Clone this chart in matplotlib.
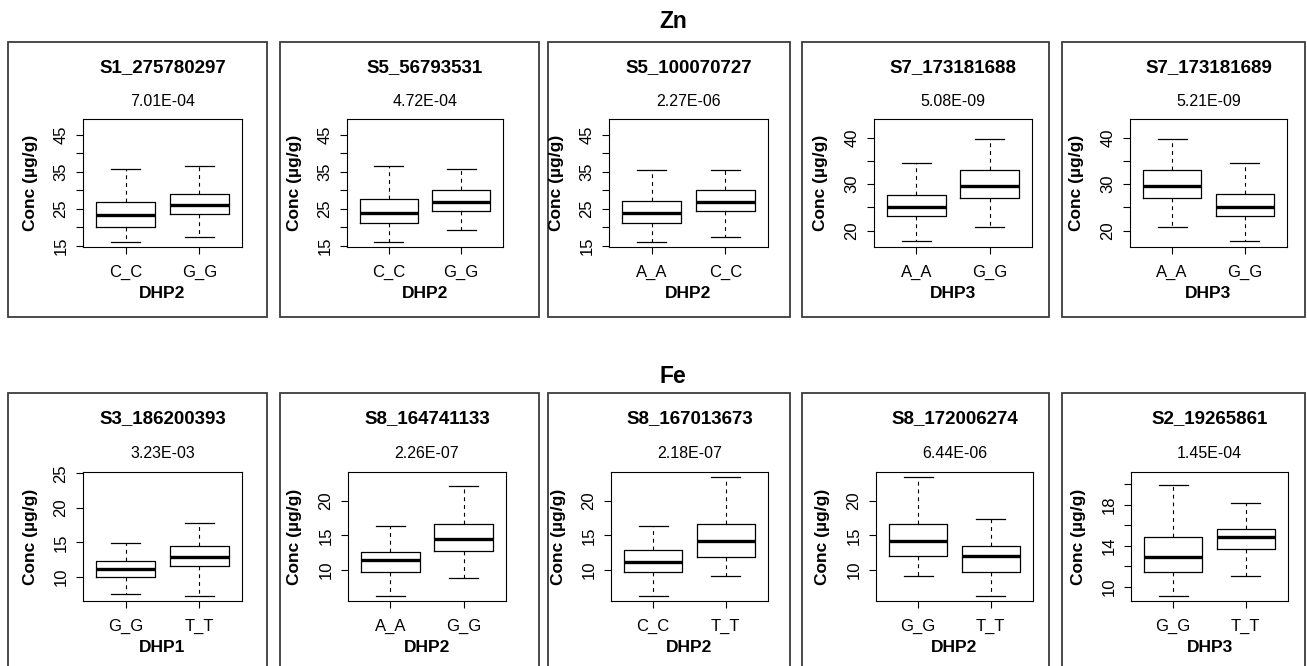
import matplotlib
matplotlib.use('Agg')
import matplotlib.pyplot as plt
from matplotlib.patches import Rectangle

plt.rcParams['font.family'] = ['Liberation Sans', 'DejaVu Sans']

# ---- data ----
row_titles = ['Zn', 'Fe']

markers = [
    ['S1_275780297', 'S5_56793531', 'S5_100070727', 'S7_173181688', 'S7_173181689'],
    ['S3_186200393', 'S8_164741133', 'S8_167013673', 'S8_172006274', 'S2_19265861'],
]
pvalues = [
    ['7.01E-04', '4.72E-04', '2.27E-06', '5.08E-09', '5.21E-09'],
    ['3.23E-03', '2.26E-07', '2.18E-07', '6.44E-06', '1.45E-04'],
]
groups = [
    ['DHP2', 'DHP2', 'DHP2', 'DHP3', 'DHP3'],
    ['DHP1', 'DHP2', 'DHP2', 'DHP2', 'DHP3'],
]
genotypes = [
    [['C_C', 'G_G'], ['C_C', 'G_G'], ['A_A', 'C_C'], ['A_A', 'G_G'], ['A_A', 'G_G']],
    [['G_G', 'T_T'], ['A_A', 'G_G'], ['C_C', 'T_T'], ['G_G', 'T_T'], ['G_G', 'T_T']],
]

# five-number summaries per genotype (lower whisker, Q1, median, Q3, upper whisker)
whisker_low = [
    [[15.9, 17.2], [15.9, 19.2], [15.9, 17.4], [17.7, 20.9], [20.9, 17.7]],
    [[7.5, 7.2], [6.3, 8.85], [6.3, 9.2], [9.2, 6.3], [9.1, 11.05]],
]
quart_1 = [
    [[20.1, 23.6], [21.1, 24.3], [21.1, 24.3], [23.1, 27.1], [27.1, 23.1]],
    [[10.05, 11.6], [9.75, 12.8], [9.75, 11.95], [12.0, 9.75], [11.45, 13.7]],
]
medians = [
    [[23.2, 26.0], [23.7, 26.9], [23.8, 26.7], [25.1, 29.6], [29.6, 25.1]],
    [[11.1, 12.85], [11.4, 14.55], [11.2, 14.2], [14.2, 12.0], [12.95, 14.9]],
]
quart_3 = [
    [[26.9, 29.0], [27.7, 30.1], [27.2, 30.0], [27.7, 33.1], [33.1, 27.9]],
    [[12.3, 14.5], [12.65, 16.7], [12.85, 16.65], [16.65, 13.45], [14.9, 15.6]],
]
whisker_high = [
    [[35.7, 36.7], [36.7, 35.7], [35.4, 35.4], [34.6, 39.6], [39.6, 34.6]],
    [[14.9, 17.8], [16.4, 22.1], [16.4, 23.5], [23.5, 17.4], [19.9, 18.2]],
]

y_limits = [
    [(14.6, 49.35), (14.6, 49.35), (14.6, 49.35), (16.5, 44.0), (16.5, 44.0)],
    [(6.5, 25.2), (5.55, 24.15), (5.55, 24.15), (5.55, 24.15), (8.63, 21.2)],
]
zn_wide = ([15, 20, 25, 30, 35, 40, 45], ['15', '', '25', '', '35', '', '45'])
zn_narrow = ([20, 25, 30, 35, 40], ['20', '', '30', '', '40'])
fe_ticks = [
    ([10, 15, 20, 25], ['10', '15', '20', '25']),
    ([10, 15, 20], ['10', '15', '20']),
    ([10, 12, 14, 16, 18, 20], ['10', '', '14', '', '18', '']),
]
y_ticks = [
    [zn_wide, zn_wide, zn_wide, zn_narrow, zn_narrow],
    [fe_ticks[0], fe_ticks[1], fe_ticks[1], fe_ticks[1], fe_ticks[2]],
]

# ---- layout in pixels ----
W, H = 1307, 666
frame_left = [8, 280, 548, 802, 1062]
frame_right = [267, 539, 790, 1049, 1305]
frame_top = [42, 393]
frame_height = 275
axes_left = [[83, 347, 609, 874, 1130], [83, 348, 611, 876, 1131]]
axes_right = [[242, 503, 768, 1032, 1287], [242, 506, 768, 1033, 1288]]
axes_top = [119, 472]
axes_bottom = [247, 601]
heading_y = [21, 376]


def fx(px):
    return px / W


def fy(py):
    return 1 - py / H


fig = plt.figure(figsize=(W / 100, H / 100), dpi=100)

for r in range(2):
    fig.text(fx(673), fy(heading_y[r]), row_titles[r], ha='center', va='center',
             fontsize=16.5, fontweight='bold')
    for c in range(5):
        fig.add_artist(Rectangle((fx(frame_left[c]), fy(frame_top[r] + frame_height)),
                                 fx(frame_right[c] - frame_left[c]), frame_height / H,
                                 transform=fig.transFigure, fill=False,
                                 edgecolor='#3c3c3c', lw=1.3))

        l, rt = axes_left[r][c], axes_right[r][c]
        t, b = axes_top[r], axes_bottom[r]
        ax = fig.add_axes([fx(l), fy(b), fx(rt - l), (b - t) / H])

        stats = []
        for k in range(2):
            stats.append(dict(whislo=whisker_low[r][c][k], q1=quart_1[r][c][k],
                              med=medians[r][c][k], q3=quart_3[r][c][k],
                              whishi=whisker_high[r][c][k], fliers=[]))
        ax.bxp(stats, positions=[1, 2], widths=0.8, capwidths=0.4, showfliers=False,
               boxprops=dict(color='black', lw=0.9),
               medianprops=dict(color='black', lw=2.4, solid_capstyle='butt'),
               whiskerprops=dict(color='black', lw=0.8, linestyle=(0, (3.5, 3.5))),
               capprops=dict(color='black', lw=0.9))

        ax.set_xlim(0.42, 2.58)
        ax.set_ylim(*y_limits[r][c])
        ax.set_xticks([1, 2])
        ax.set_xticklabels(genotypes[r][c], fontsize=12)
        ticks, labels = y_ticks[r][c]
        ax.set_yticks(ticks)
        ax.set_yticklabels(labels, fontsize=12, rotation=90, va='center')
        ax.tick_params(axis='x', direction='out', length=5, width=0.8, pad=8)
        ax.tick_params(axis='y', direction='out', length=5, width=0.8, pad=5.5)
        for sp in ax.spines.values():
            sp.set_linewidth(0.8)

        cx = (l + rt) / 2
        fig.text(fx(cx), fy(frame_top[r] + 26), markers[r][c], ha='center', va='center',
                 fontsize=13.5, fontweight='bold')
        fig.text(fx(cx), fy(frame_top[r] + 60), pvalues[r][c], ha='center', va='center',
                 fontsize=11.5)
        fig.text(fx(cx), fy(b + 46), groups[r][c], ha='center', va='center',
                 fontsize=12.5, fontweight='bold')
        fig.text(fx(l - 53), fy((t + b) / 2), 'Conc (µg/g)', ha='center', va='center',
                 rotation=90, fontsize=12.5, fontweight='bold')

fig.savefig('out.png', dpi=100)
